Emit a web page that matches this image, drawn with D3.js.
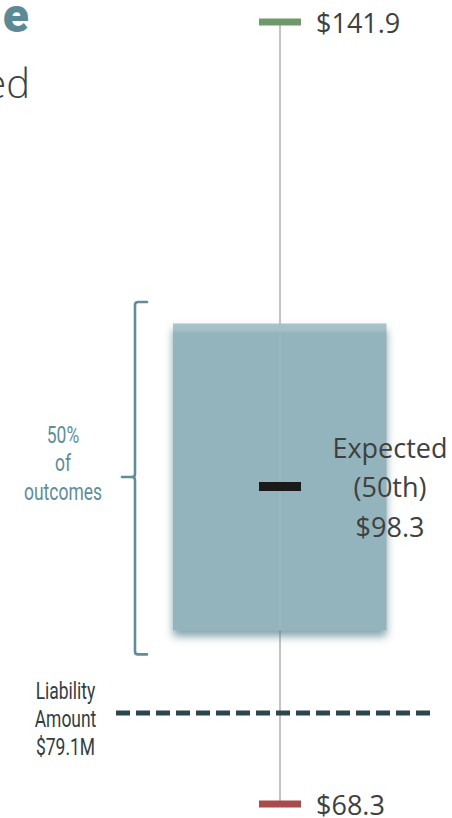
<!DOCTYPE html>
<html><head><meta charset="utf-8">
<script src="https://cdn.jsdelivr.net/npm/d3@7"></script>
<style>
html,body{margin:0;padding:0;background:#fff;}
svg{display:block;}
</style></head>
<body>
<svg id="chart" width="452" height="818"></svg>
<script>
// ---- data ----
const statNames  = ["Min", "Q1", "Median", "Q3", "Max"];
const statValues = [68.3, 86.1, 98.3, 113.6, 141.9];
const liabilityValue = 79.1;
const maxLabel = "$141.9";
const minLabel = "$68.3";
const expectedLines = ["Expected", "(50th)", "$98.3"];
const outcomeLines = ["50%", "of", "outcomes"];
const liabilityLines = ["Liability", "Amount", "$79.1M"];
const scaleKnots = [68.3, 79.1, 98.3, 141.9];

const W = 452, H = 818;
const svg = d3.select("#chart");
const stat = {}; statNames.forEach((n,i)=>stat[n]=statValues[i]);

// polylinear (non-uniform) value axis as drawn in the original
const y = d3.scaleLinear().domain(scaleKnots).range([804, 713, 486.5, 22]);
const cx = 280;
const x = d3.scaleBand().domain(["dist"]).range([173, 386.5]).padding(0);

const defs = svg.append("defs");
const f = defs.append("filter").attr("id","sh").attr("x","-20%").attr("y","-20%").attr("width","140%").attr("height","140%");
f.append("feDropShadow").attr("dx",0).attr("dy",6).attr("stdDeviation",4)
  .attr("flood-color","#4f7d88").attr("flood-opacity",0.7);
const g = defs.append("linearGradient").attr("id","boxg").attr("x1",0).attr("x2",0).attr("y1",0).attr("y2",1);
g.append("stop").attr("offset","0%").attr("stop-color","#a8c4c9");
g.append("stop").attr("offset","2.2%").attr("stop-color","#a3c0c6");
g.append("stop").attr("offset","3.2%").attr("stop-color","#93b4bc");
g.append("stop").attr("offset","100%").attr("stop-color","#93b4bc");

// partial title at top-left
svg.append("text").attr("x",29).attr("y",32).attr("text-anchor","end")
  .attr("font-family","Roboto").attr("font-weight",900).attr("font-size",48)
  .attr("fill","#5b8a96").text("e");
svg.append("text").attr("x",30).attr("y",98).attr("text-anchor","end")
  .attr("font-family","Open Sans").attr("font-weight",300).attr("font-size",40)
  .attr("fill","#404040").text("ed");

// whisker line
svg.append("line").attr("x1",cx).attr("x2",cx)
  .attr("y1",y(stat.Max)).attr("y2",y(stat.Min))
  .attr("stroke","#c3c3c3").attr("stroke-width",2);

// box
svg.append("rect").attr("x",x("dist")).attr("width",x.bandwidth())
  .attr("y",y(stat.Q3)).attr("height",y(stat.Q1)-y(stat.Q3))
  .attr("fill","url(#boxg)").attr("filter","url(#sh)");
// faint whisker seen through box
svg.append("line").attr("x1",cx).attr("x2",cx)
  .attr("y1",y(stat.Q3)).attr("y2",y(stat.Q1))
  .attr("stroke","#a0bec5").attr("stroke-width",2).attr("opacity",0.35);

// markers
const markers = [
  {v: stat.Max, c: "#6e9a6b", h: 7},
  {v: stat.Median, c: "#1a1a1a", h: 9},
  {v: stat.Min, c: "#a84b4a", h: 7}
];
svg.selectAll("rect.mk").data(markers).join("rect").attr("class","mk")
  .attr("x",cx-21).attr("width",42)
  .attr("y",d=>y(d.v)-d.h/2).attr("height",d=>d.h).attr("fill",d=>d.c);

// value labels
const valFont = {family:"Open Sans", size:27, color:"#404040"};
svg.append("text").attr("x",316).attr("y",y(stat.Max)+11)
  .attr("font-family",valFont.family).attr("font-size",valFont.size).attr("fill",valFont.color).text(maxLabel);
svg.append("text").attr("x",316).attr("y",y(stat.Min)+11)
  .attr("font-family",valFont.family).attr("font-size",valFont.size).attr("fill",valFont.color).text(minLabel);
svg.selectAll("text.exp").data(expectedLines).join("text").attr("class","exp")
  .attr("x",390).attr("y",(d,i)=>y(stat.Median)-29+i*39.5)
  .attr("text-anchor","middle")
  .attr("font-family",valFont.family).attr("font-size",valFont.size).attr("fill",valFont.color).text(d=>d);

// bracket
const bTop = y(stat.Q3)-21.5, bBot = y(stat.Q1)+24, bMid = (y(stat.Q3)+y(stat.Q1))/2;
const bx = 135, r = 3;
const bp = d3.path();
bp.moveTo(147,bTop); bp.lineTo(bx+r,bTop); bp.quadraticCurveTo(bx,bTop,bx,bTop+r);
bp.lineTo(bx,bMid-3); bp.quadraticCurveTo(bx,bMid,bx-3,bMid); bp.lineTo(122,bMid);
bp.moveTo(bx-3,bMid); bp.quadraticCurveTo(bx,bMid,bx,bMid+3);
bp.lineTo(bx,bBot-r); bp.quadraticCurveTo(bx,bBot,bx+r,bBot); bp.lineTo(147,bBot);
svg.append("path").attr("d",bp.toString()).attr("fill","none")
  .attr("stroke","#5f8d98").attr("stroke-width",2.6).attr("stroke-linecap","round");

// condensed labels
function condensed(sel, lines, cxp, y0, dy, color){
  sel.selectAll(null).data(lines).join("text")
    .attr("transform",(d,i)=>`translate(${cxp},${y0+i*dy}) scale(0.76,1)`)
    .attr("text-anchor","middle").attr("font-family","Roboto").attr("font-weight",400).attr("font-size",23)
    .attr("fill",color).text(d=>d);
}
condensed(svg, outcomeLines, 63, bMid-34, 28.5, "#5f8d98");
condensed(svg, liabilityLines, 65.5, y(liabilityValue)-14, 28, "#2f3e44");

// liability dashed line
svg.append("line").attr("x1",116).attr("x2",432)
  .attr("y1",y(liabilityValue)).attr("y2",y(liabilityValue))
  .attr("stroke","#2d454d").attr("stroke-width",5).attr("stroke-dasharray","14,6");
</script>
</body></html>
